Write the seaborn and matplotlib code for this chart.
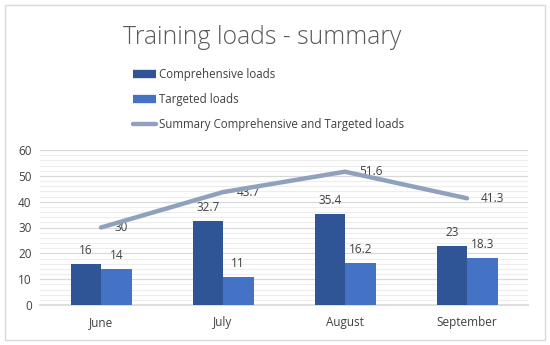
import matplotlib
matplotlib.use("Agg")
import matplotlib.pyplot as plt
import seaborn as sns
import pandas as pd
import numpy as np
from matplotlib.patches import Rectangle
from matplotlib.lines import Line2D
from matplotlib.ticker import MultipleLocator

months = ["June", "July", "August", "September"]
comprehensive = [16, 32.7, 35.4, 23]
targeted = [14, 11, 16.2, 18.3]
summary = [30, 43.7, 51.6, 41.3]
series_names = ["Comprehensive loads", "Targeted loads", "Summary Comprehensive and Targeted loads"]

dark = "#2F5597"
light = "#4472C4"
line_c = "#8FA1BC"
text_c = "#404040"

sns.set_theme(style="white")
plt.rcParams['font.family'] = ['Open Sans', 'DejaVu Sans']

df = pd.DataFrame({
    "month": months * 2,
    "value": comprehensive + targeted,
    "series": [series_names[0]] * 4 + [series_names[1]] * 4,
})
df_line = pd.DataFrame({"month": months, "value": summary})

fig = plt.figure(figsize=(5.5, 3.45), dpi=100)
ax = fig.add_axes([40/550, 40/345, 488/550, 155/345])

sns.barplot(data=df, x="month", y="value", hue="series", order=months,
            hue_order=series_names[:2], palette=[dark, light], width=0.5,
            saturation=1, ax=ax, legend=False, zorder=3, linewidth=0)
xpos = np.arange(len(months))
sns.lineplot(x=xpos, y=df_line["value"], color=line_c, linewidth=3.2, ax=ax,
             zorder=4, solid_capstyle="round")

ax.set_xlim(-0.5, 3.5)
ax.set_ylim(0, 60)
ax.yaxis.set_major_locator(MultipleLocator(10))
ax.yaxis.set_minor_locator(MultipleLocator(2))
ax.grid(which="major", axis="y", color="#D9D9D9", linewidth=0.9, zorder=0)
ax.grid(which="minor", axis="y", color="#EDEDED", linewidth=0.8, zorder=0)
ax.set_axisbelow(True)
for s in ["left", "right", "top"]:
    ax.spines[s].set_visible(False)
ax.spines["bottom"].set_color("#D9D9D9")
ax.set_xlabel("")
ax.set_ylabel("")
ax.tick_params(axis="both", which="both", length=0, labelsize=8.5, colors=text_c, pad=6)
ax.tick_params(axis="x", pad=8)

# data labels
for i in range(len(months)):
    ax.annotate(f"{comprehensive[i]:g}", (i - 0.125, comprehensive[i]), xytext=(0, 5),
                textcoords="offset points", ha="center", va="bottom", fontsize=8.5, color=text_c)
    ax.annotate(f"{targeted[i]:g}", (i + 0.125, targeted[i]), xytext=(0, 5),
                textcoords="offset points", ha="center", va="bottom", fontsize=8.5, color=text_c)
    ax.annotate(f"{summary[i]:g}", (i, summary[i]), xytext=(10, 0),
                textcoords="offset points", ha="left", va="center", fontsize=8.5, color=text_c)

# title
fig.text(262/550, 1 - 37/345, "Training loads - summary", ha="center", va="center",
         fontsize=17.8, color="#595959", fontweight="light")

# legend
handles = [Line2D([0], [0], color=dark, linewidth=6, solid_capstyle="butt"),
           Line2D([0], [0], color=light, linewidth=6, solid_capstyle="butt"),
           Line2D([0], [0], color=line_c, linewidth=3.2, solid_capstyle="round")]
fig.legend(handles, series_names, loc="upper left", bbox_to_anchor=(133/550, 1 - 68/345),
           frameon=False, fontsize=8.3, labelcolor=text_c, handlelength=2.0,
           handletextpad=0.25, labelspacing=1.05, borderaxespad=0, borderpad=0)

fig.patches.append(Rectangle((5/550, 5/345), 540/550, 335/345, transform=fig.transFigure,
                             fill=False, edgecolor="#D9D9D9", linewidth=1))

fig.savefig("out.png", dpi=100)
